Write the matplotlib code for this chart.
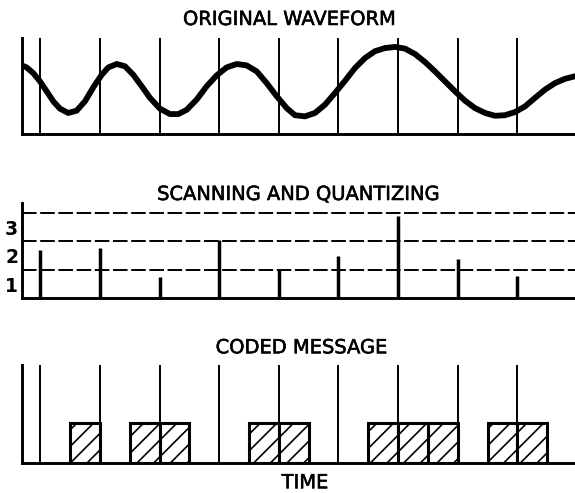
import matplotlib
matplotlib.use("Agg")
import matplotlib.pyplot as plt
import matplotlib.patheffects as pe

plt.rcParams['font.family'] = ['DejaVu Sans']
plt.rcParams['lines.scale_dashes'] = False
plt.rcParams['hatch.linewidth'] = 1.2

# ---------------- data ----------------
titles = ["ORIGINAL WAVEFORM", "SCANNING AND QUANTIZING", "CODED MESSAGE"]
x_label = "TIME"

# sampling instants (in sample periods)
sample_times = [0, 1, 2, 3, 4, 5, 6, 7, 8]

# original waveform (time in sample periods, amplitude in quantizing levels)
wave_t = [-0.344, -0.232, -0.121, -0.008, 0.104, 0.215, 0.327, 0.466, 0.607, 0.747,
          0.886, 1.027, 1.138, 1.279, 1.418, 1.557, 1.698, 1.837, 2.005, 2.173,
          2.312, 2.453, 2.621, 2.789, 2.956, 3.124, 3.292, 3.460, 3.628, 3.795,
          3.963, 4.131, 4.270, 4.438, 4.606, 4.773, 4.941, 5.109, 5.277, 5.445,
          5.612, 5.780, 5.948, 6.116, 6.284, 6.451, 6.619, 6.787, 6.955, 7.123,
          7.290, 7.458, 7.626, 7.794, 7.961, 8.129, 8.297, 8.465, 8.633, 8.801,
          8.968]
wave_v = [2.44, 2.34, 2.14, 1.85, 1.50, 1.15, 0.89, 0.74, 0.82, 1.15,
          1.64, 2.08, 2.34, 2.46, 2.38, 2.08, 1.68, 1.27, 0.89, 0.70,
          0.70, 0.85, 1.21, 1.68, 2.06, 2.34, 2.46, 2.41, 2.20, 1.79,
          1.33, 0.91, 0.66, 0.62, 0.74, 1.03, 1.44, 1.87, 2.32, 2.67,
          2.91, 3.02, 3.06, 3.00, 2.81, 2.53, 2.20, 1.85, 1.50, 1.17,
          0.91, 0.74, 0.64, 0.66, 0.77, 0.97, 1.27, 1.56, 1.79, 1.94,
          2.03]

# scanned sample values
sample_values = [1.70, 1.78, 0.76, 2.05, 1.02, 1.49, 2.89, 1.38, 0.79]

# quantizing levels and their labels
quant_levels = [1, 2, 3]
level_label_pos = [0.5, 1.5, 2.5]
level_labels = ["1", "2", "3"]

# coded message: start time of each pulse slot (sample periods), slot width
code_pulse_starts = [0.5, 1.5, 2.0, 3.5, 4.0, 5.5, 6.0, 6.5, 7.5, 8.0]
code_slot_width = 0.5
code_pulse_height = 1.0

# ---------------- figure ----------------
W, H = 575, 493
fig = plt.figure(figsize=(W / 100, H / 100), dpi=100)
fig.patch.set_facecolor("white")


def ax_at(left, top, right, bottom):
    return fig.add_axes([left / W, 1 - bottom / H, (right - left) / W, (bottom - top) / H])


XLIM = (-0.315, 8.968)
SPINE_LW = 2.1
GRID_LW = 1.4
heavy = [pe.withStroke(linewidth=0.4, foreground="black")]

ax1 = ax_at(21.7, 38, 575, 134)
ax2 = ax_at(21.7, 203, 575, 298.3)
ax3 = ax_at(21.7, 365, 575, 463.3)

for ax in (ax1, ax2, ax3):
    ax.set_xlim(*XLIM)
    for s in ("top", "right"):
        ax.spines[s].set_visible(False)
    for s in ("left", "bottom"):
        ax.spines[s].set_linewidth(SPINE_LW)
        ax.spines[s].set_color("black")
    ax.set_xticks([])
    ax.set_facecolor("none")

# panel 1: original waveform
ax1.set_ylim(0, 3.374)
ax1.set_yticks([])
for t in sample_times:
    ax1.axvline(t, color="black", lw=GRID_LW, zorder=1)
ax1.plot(wave_t, wave_v, color="black", lw=4.2, solid_joinstyle="round",
         solid_capstyle="round", zorder=3)

# panel 2: scanning and quantizing
ax2.set_ylim(0, 3.35)
for lv in quant_levels:
    ax2.axhline(lv, color="black", lw=GRID_LW, linestyle=(0, (10.5, 2.6)), zorder=1)
ax2.vlines(sample_times, 0, sample_values, color="black", lw=2.5, zorder=3)
ax2.set_yticks(level_label_pos)
ax2.set_yticklabels(level_labels, fontsize=13.5, fontweight="bold")
ax2.tick_params(axis="y", length=0, pad=2.5)

# panel 3: coded message
ax3.set_ylim(0, 2.46)
ax3.set_yticks([])
for t in sample_times:
    ax3.axvline(t, color="black", lw=GRID_LW, zorder=1)
ax3.bar(code_pulse_starts, code_pulse_height, width=code_slot_width, align="edge",
        facecolor="white", edgecolor="black", linewidth=2.2, hatch="//", zorder=2)

# titles and axis label
fig.text(289.5 / W, 1 - 25 / H, titles[0], ha="center", va="baseline", fontsize=14,
         path_effects=heavy)
fig.text(298.5 / W, 1 - 200 / H, titles[1], ha="center", va="baseline", fontsize=14,
         path_effects=heavy)
fig.text(301.5 / W, 1 - 353.3 / H, titles[2], ha="center", va="baseline", fontsize=14,
         path_effects=heavy)
fig.text(305 / W, 1 - 488.3 / H, x_label, ha="center", va="baseline", fontsize=14,
         path_effects=heavy)

fig.savefig("out.png", dpi=100, facecolor="white")
